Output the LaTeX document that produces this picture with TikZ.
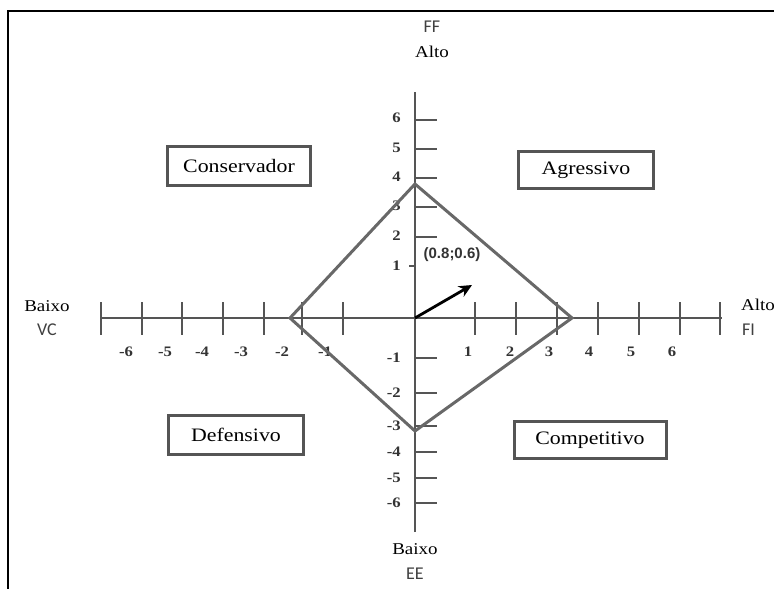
\documentclass[tikz,border=0pt]{standalone}
\usepackage{fontspec}
\setmainfont[FakeStretch=1.15]{Liberation Serif}
\newfontfamily\siglafont{Carlito}
\newfontfamily\pontofont{Liberation Sans}
\usetikzlibrary{positioning,arrows.meta,calc}

\definecolor{boxgray}{HTML}{555555}
\definecolor{diagray}{HTML}{686868}
\definecolor{axisgray}{HTML}{555555}
\definecolor{labgray}{HTML}{404040}
\definecolor{numgray}{HTML}{333333}

\tikzset{
  quadbox/.style={draw=boxgray, line width=3pt, fill=white, inner sep=0pt,
    font=\fontsize{19}{19}\selectfont},
  eixolabel/.style={font=\fontsize{16.5}{16.5}\selectfont, inner sep=0pt},
  sigla/.style={font=\siglafont\fontsize{18}{18}\selectfont, text=labgray, inner sep=0pt},
  numlabel/.style={font=\bfseries\fontsize{14.5}{14.5}\selectfont, text=numgray, inner sep=0pt},
}

\begin{document}
\begin{tikzpicture}[x=1pt, y=-1pt]
  \useasboundingbox (0,0) rectangle (774,589);
  \clip (0,0) rectangle (774,589);

  % moldura
  \draw[line width=2pt] (8,620) |- (800,11);

  % eixos
  \coordinate (o) at (415,318);
  \coordinate (xmin) at (101,318);
  \coordinate (xmax) at (722,318);
  \coordinate (ymax) at (415,92);
  \coordinate (ymin) at (415,532);
  \draw[axisgray, line width=1.5pt] (xmin) -- (xmax);
  \draw[axisgray, line width=2pt] (ymin) -- (ymax);

  % marcas do eixo horizontal
  \foreach \xt in {101,142,182,223,264,302,343,475,516,557,598,639,680,720}
    \draw[axisgray, line width=1.5pt] (\xt,302) -- (\xt,335);
  \foreach \xt/\lab in {126/-6,165/-5,202/-4,241/-3,282/-2,325/-1,
                        468/1,510/2,549/3,589/4,631/5,672/6}
    \node[numlabel] (nx\lab) at (\xt,352) {\lab};

  % marcas do eixo vertical
  \foreach \yt in {120,149,178,207,237,358,393,426,452,478,503}
    \draw[axisgray, line width=1.5pt] (415,\yt) -- (437,\yt);
  \draw[axisgray, line width=1.5pt] (409,266) -- (415,266);
  \foreach \yt/\lab in {118/6,148/5,177/4,206/3,236/2,266/1,
                        358/-1,393/-2,426/-3,452/-4,478/-5,503/-6}
    \node[numlabel, anchor=east] (ny\lab) at (401,\yt) {\lab};

  % losango
  \coordinate (dtop) at (415,184);
  \coordinate (dright) at (572,318);
  \coordinate (dbot) at (415,431);
  \coordinate (dleft) at (290,318);
  \draw[diagray, line width=3pt, line join=miter] (dtop) -- (dright) -- (dbot) -- (dleft) -- cycle;

  % vetor resultante
  \coordinate (vtip) at (472,285);
  \draw[line width=2.8pt, -{Stealth[length=13pt, width=12pt]}] (o) -- (vtip);
  \node[font=\pontofont\bfseries\fontsize{15}{15}\selectfont, text=numgray, inner sep=0pt]
    (ponto) at (452,255) {(0.8;0.6)};

  % quadrantes
  \node[quadbox, minimum width=143pt, minimum height=39pt] (conservador) at (239,166) {Conservador};
  \node[quadbox, minimum width=135pt, minimum height=37pt] (agressivo) at (586,170) {Agressivo};
  \node[quadbox, minimum width=135pt, minimum height=39pt] (defensivo) at (236,435) {Defensivo};
  \node[quadbox, minimum width=152pt, minimum height=37pt] (competitivo) at (590,440) {Competitivo};

  % rótulos dos eixos
  \node[sigla] (ff) at (432,27) {FF};
  \node[eixolabel] (altoff) at (432,52) {Alto};
  \node[eixolabel] (baixovc) at (47,306) {Baixo};
  \node[sigla] (vc) at (47,330) {VC};
  \node[eixolabel, anchor=west] (altofi) at (741,305) {Alto};
  \node[sigla, anchor=west] (fi) at (742,330) {FI};
  \node[eixolabel] (baixoee) at (415,549) {Baixo};
  \node[sigla] (ee) at (415,574) {EE};
\end{tikzpicture}
\end{document}
